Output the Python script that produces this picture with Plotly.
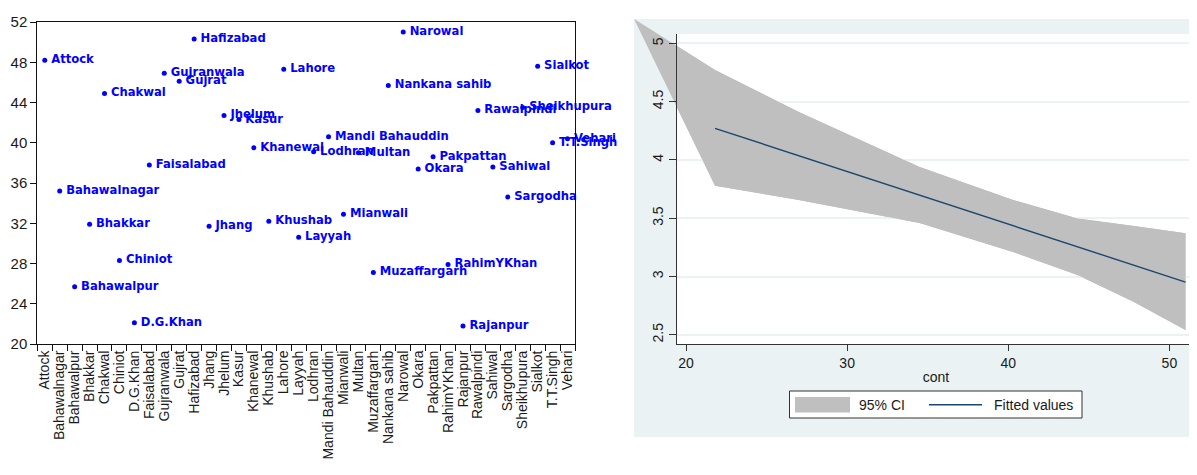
import plotly.graph_objects as go

# ---------------- data ----------------
districts = ["Attock", "Bahawalnagar", "Bahawalpur", "Bhakkar", "Chakwal", "Chiniot",
             "D.G.Khan", "Faisalabad", "Gujranwala", "Gujrat", "Hafizabad", "Jhang",
             "Jhelum", "Kasur", "Khanewal", "Khushab", "Lahore", "Layyah", "Lodhran",
             "Mandi Bahauddin", "Mianwali", "Multan", "Muzaffargarh", "Nankana sahib",
             "Narowal", "Okara", "Pakpattan", "RahimYKhan", "Rajanpur", "Rawalpindi",
             "Sahiwal", "Sargodha", "Sheikhupura", "Sialkot", "T.T.Singh", "Vehari"]
cont = [48.2, 35.2, 25.7, 31.9, 44.9, 28.3, 22.1, 37.8, 46.9, 46.1, 50.3, 31.7,
        42.7, 42.3, 39.5, 32.2, 47.3, 30.6, 39.1, 40.6, 32.9, 39.0, 27.1, 45.7,
        51.0, 37.4, 38.6, 27.9, 21.8, 43.2, 37.6, 34.6, 43.5, 47.6, 40.0, 40.4]
left_yticks = [20, 24, 28, 32, 36, 40, 44, 48, 52]

# 95% CI band, polygon: apex, upper edge, lower edge reversed
ci_x = [21.8, 27.0, 34.5, 40.3, 44.3, 47.8, 51.0]
ci_upper = [4.771, 4.411, 3.939, 3.656, 3.497, 3.433, 3.370]
ci_lower = [3.779, 3.656, 3.459, 3.210, 3.013, 2.781, 2.541]
ci_apex = (16.77, 5.21)
fit_x = [21.8, 51.0]
fit_y = [4.271, 2.952]
right_xticks = [20, 30, 40, 50]
right_yticks = [2.5, 3, 3.5, 4, 4.5, 5]
right_yticktext = ["2.5", "3", "3.5", "4", "4.5", "5"]

# ---------------- geometry (page pixels) ----------------
# the page body has an 8px default margin, so the figure starts at (8, 8)
OFF = 8
W, H = 1197 - OFF, 475 - OFF
def fx(px): return (px - OFF) / W
def fy(py): return 1 - (py - OFF) / H

L_left, L_right, L_top, L_bot = 37.3, 575, 22, 344
R_left, R_right, R_top, R_bot = 677, 1195, 34, 344
O_left, O_right, O_top, O_bot = 634, 1197, 19, 437

rx = [19.44, 51.59]
ry = [2.421, 5.080]
ppx = (R_right - R_left) / (rx[1] - rx[0])
ppy = (R_bot - R_top) / (ry[1] - ry[0])
ox = [rx[0] - (R_left - O_left) / ppx, rx[1] + (O_right - R_right) / ppx]
oy = [ry[0] - (O_bot - R_bot) / ppy, ry[1] + (R_top - O_top) / ppy]

band_x = [ci_apex[0]] + ci_x + ci_x[::-1] + [ci_apex[0]]
band_y = [ci_apex[1]] + ci_upper + ci_lower[::-1] + [ci_apex[1]]

BAND = "#BFBFBF"
NAVY = "#1A476F"
BG = "#EAF2F3"
TXT = "#1a1a1a"
AX = "Liberation Sans, Arial, sans-serif"

fig = go.Figure()

# left chart
fig.add_trace(go.Scatter(
    x=districts, y=cont, mode="markers+text", text=districts,
    texttemplate="\u2009%{text}",
    textposition="middle right",
    marker=dict(size=5, color="#0000FF"),
    textfont=dict(family="DejaVu Sans", size=11.6, color="#0000FF", weight="bold"),
    cliponaxis=False, showlegend=False, xaxis="x", yaxis="y"))

# right chart: band on the large (graph-region) axes, so it can overflow into the margin
fig.add_trace(go.Scatter(
    x=band_x, y=band_y, mode="lines", fill="toself", fillcolor=BAND,
    line=dict(width=0, color=BAND), showlegend=False, hoverinfo="skip",
    xaxis="x2", yaxis="y2"))
# same band on the inner axes (covers the grid lines)
fig.add_trace(go.Scatter(
    x=band_x, y=band_y, mode="lines", fill="toself", fillcolor=BAND,
    line=dict(width=0, color=BAND), name="95% CI", showlegend=False,
    xaxis="x3", yaxis="y3"))
fig.add_trace(go.Scatter(
    x=fit_x, y=fit_y, mode="lines", line=dict(color=NAVY, width=1.4),
    name="Fitted values", showlegend=False, xaxis="x3", yaxis="y3"))

shapes = [
    dict(type="rect", xref="paper", yref="paper", x0=fx(O_left), x1=fx(O_right),
         y0=fy(O_bot), y1=fy(O_top), fillcolor=BG, line=dict(width=0), layer="below"),
    dict(type="rect", xref="paper", yref="paper", x0=fx(R_left), x1=fx(R_right),
         y0=fy(R_bot), y1=fy(R_top), fillcolor="white", line=dict(width=0), layer="below"),
    # legend box
    dict(type="rect", xref="paper", yref="paper", x0=fx(789.5), x1=fx(1082),
         y0=fy(418), y1=fy(391), fillcolor="white", line=dict(color="#333333", width=1),
         layer="above"),
    dict(type="rect", xref="paper", yref="paper", x0=fx(795), x1=fx(850),
         y0=fy(412.5), y1=fy(397), fillcolor=BAND, line=dict(width=0), layer="above"),
    dict(type="line", xref="paper", yref="paper", x0=fx(929), x1=fx(982),
         y0=fy(404.7), y1=fy(404.7), line=dict(color=NAVY, width=1.4), layer="above"),
]
annotations = [
    dict(text="95% CI", xref="paper", yref="paper", x=fx(857.5), y=fy(405),
         xanchor="left", yanchor="middle", showarrow=False,
         font=dict(family=AX, size=14, color=TXT)),
    dict(text="Fitted values", xref="paper", yref="paper", x=fx(991.5), y=fy(405),
         xanchor="left", yanchor="middle", showarrow=False,
         font=dict(family=AX, size=14, color=TXT)),
]

fig.update_layout(
    width=W, height=H, autosize=False,
    margin=dict(l=0, r=0, t=0, b=0),
    paper_bgcolor="white", plot_bgcolor="rgba(0,0,0,0)",
    showlegend=False, shapes=shapes, annotations=annotations,
    xaxis=dict(domain=[fx(L_left), fx(L_right)], anchor="y", type="category",
               categoryorder="array", categoryarray=districts, range=[-0.5, 35.5],
               tickmode="array", tickvals=districts, ticktext=districts,
               tickson="boundaries", ticks="outside", ticklen=6, tickcolor="#111",
               tickangle=-90, tickfont=dict(family=AX, size=14, color=TXT),
               showline=True, linecolor="#111", linewidth=1, mirror=True,
               showgrid=False, zeroline=False, automargin=False),
    yaxis=dict(domain=[fy(L_bot), fy(L_top)], anchor="x", range=[20, 52],
               tickvals=left_yticks, ticks="outside", ticklen=6, tickcolor="#111",
               tickfont=dict(family=AX, size=15, color=TXT),
               showline=True, linecolor="#111", linewidth=1, mirror=True,
               showgrid=False, zeroline=False, automargin=False),
    xaxis2=dict(domain=[fx(O_left), fx(O_right)], anchor="y2", range=ox, visible=False,
                automargin=False),
    yaxis2=dict(domain=[fy(O_bot), fy(O_top)], anchor="x2", range=oy, visible=False,
                automargin=False),
    xaxis3=dict(domain=[fx(R_left), fx(R_right)], anchor="y3", range=rx,
                tickvals=right_xticks, ticks="outside", ticklen=6, tickcolor="#333",
                tickfont=dict(family=AX, size=14, color=TXT),
                showline=True, linecolor="#333", linewidth=1, showgrid=False,
                zeroline=False, automargin=False,
                title=dict(text="cont", font=dict(family=AX, size=14, color=TXT),
                           standoff=2)),
    yaxis3=dict(domain=[fy(R_bot), fy(R_top)], anchor="x3", range=ry,
                tickvals=right_yticks, ticktext=right_yticktext, tickangle=-90,
                ticks="outside", ticklen=7, tickcolor="#333",
                tickfont=dict(family=AX, size=14, color=TXT),
                showline=True, linecolor="#333", linewidth=1,
                showgrid=True, gridcolor=BG, gridwidth=1.5, zeroline=False,
                automargin=False),
)

fig.write_html("out.html")
